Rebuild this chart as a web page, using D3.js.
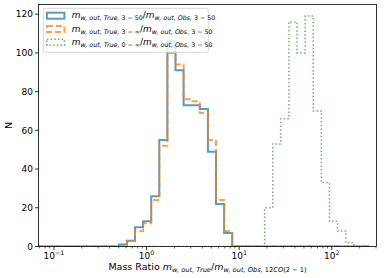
<!DOCTYPE html>
<html>
<head>
<meta charset="utf-8">
<script src="https://cdn.jsdelivr.net/npm/d3@7"></script>
<style>
  body { margin: 0; background: #fff; }
  svg { display: block; font-family: 'DejaVu Sans', sans-serif; }
</style>
</head>
<body>
<div id="chart"></div>
<script>
// log-spaced bins (41 bins between 10^-1.175 and 10^2.4125)
const logLo = -1.175;
const logHi = 2.4125;
const nBins = 41;

// counts per bin
const countsTrue350 = [0,0,0,0,0,0,0,0,0,0, 1,3,10,13,26,55,106,91,73,73, 71,49,22,7,0,0,0,0,0,0, 0,0,0,0,0,0,0,0,0,0, 0];
const countsTrue3Inf = [0,0,0,0,0,0,0,0,0,0, 0,3,8,12,24,52,100,94,76,75, 69,55,24,8,0,0,0,0,0,0, 0,0,0,0,0,0,0,0,0,0, 0];
const countsTrue0Inf = [0,0,0,0,0,0,0,0,0,0, 0,0,0,0,0,0,0,0,0,0, 0,0,0,0,0,0,0,0,20,53, 66,116,100,119,70,33,13,8,2,0, 0];

const yTicks = [0, 20, 40, 60, 80, 100, 120];
const xTickExps = [-1, 0, 1, 2];

const width = 390, height = 278;
const margin = {left: 38.5, right: 13.5, top: 4.5, bottom: 31.5};
const W = width - margin.left - margin.right;
const H = height - margin.top - margin.bottom;

const edges = d3.range(nBins + 1).map(i => Math.pow(10, logLo + (logHi - logLo) * i / nBins));

const x = d3.scaleLog().domain([Math.pow(10, -1.167), Math.pow(10, 2.483)]).range([0, W]);
const y = d3.scaleLinear().domain([0, 125]).range([H, 0]);

const svg = d3.select('#chart').append('svg')
  .attr('width', width)
  .attr('height', height);

svg.append('defs').append('clipPath').attr('id', 'clip')
  .append('rect').attr('width', W).attr('height', H);

const g = svg.append('g').attr('transform', `translate(${margin.left},${margin.top})`);

// mathtext-ish helper: parts = [[text, kind]], kind in r, i, sub, subi, sup
function mathText(sel, px, py, parts, size, anchor) {
  const t = sel.append('text')
    .attr('x', px).attr('y', py)
    .attr('font-size', size)
    .attr('text-anchor', anchor || 'start')
    .attr('fill', '#000');
  let shift = 0;
  parts.forEach(([s, kind]) => {
    const sub = kind.startsWith('sub');
    const sup = kind === 'sup';
    const ital = kind === 'i' || kind === 'subi';
    const target = sub ? size * 0.22 : sup ? -size * 0.42 : 0;
    t.append('tspan')
      .attr('dy', target - shift)
      .attr('font-size', (sub || sup) ? size * 0.7 : size)
      .attr('font-style', ital ? 'italic' : 'normal')
      .text(s);
    shift = target;
  });
  return t;
}

function stepPoints(counts) {
  const pts = [[edges[0], 0]];
  counts.forEach((c, i) => {
    pts.push([edges[i], c]);
    pts.push([edges[i + 1], c]);
  });
  pts.push([edges[counts.length], 0]);
  return pts;
}

const line = d3.line().x(d => x(d[0])).y(d => y(d[1]));

const series = [
  {counts: countsTrue350, color: '#1f77b4', dash: null, lw: 2},
  {counts: countsTrue3Inf, color: '#ff7f0e', dash: '6,3', lw: 2},
  {counts: countsTrue0Inf, color: '#2ca02c', dash: '1.5,2.2', lw: 1.5}
];

const plot = g.append('g').attr('clip-path', 'url(#clip)');
series.forEach(s => {
  plot.append('path')
    .attr('d', line(stepPoints(s.counts)))
    .attr('fill', 'none')
    .attr('stroke', s.color)
    .attr('stroke-opacity', 0.75)
    .attr('stroke-width', s.lw)
    .attr('stroke-dasharray', s.dash)
    .attr('stroke-linejoin', 'miter');
});

// frame
g.append('rect')
  .attr('width', W).attr('height', H)
  .attr('fill', 'none').attr('stroke', '#000').attr('stroke-width', 0.8);

// y axis
yTicks.forEach(v => {
  g.append('line').attr('x1', -3.5).attr('x2', 0).attr('y1', y(v)).attr('y2', y(v))
    .attr('stroke', '#000').attr('stroke-width', 0.8);
  g.append('text').attr('x', -5.5).attr('y', y(v) + 3.3)
    .attr('text-anchor', 'end').attr('font-size', 9).text(v);
});

// x axis: major and minor ticks
const [d0, d1] = x.domain();
for (let e = -2; e <= 3; e++) {
  for (let m = 1; m <= 9; m++) {
    const v = m * Math.pow(10, e);
    if (v < d0 || v > d1) continue;
    const len = m === 1 ? 3.5 : 2;
    g.append('line').attr('x1', x(v)).attr('x2', x(v)).attr('y1', H).attr('y2', H + len)
      .attr('stroke', '#000').attr('stroke-width', m === 1 ? 0.8 : 0.6);
  }
}
xTickExps.forEach(e => {
  mathText(g, x(Math.pow(10, e)), H + 12.3, [['10', 'r'], [e < 0 ? '\u2212' + (-e) : String(e), 'sup']], 9, 'middle');
});

// axis labels
mathText(g, W / 2, H + 23.8, [
  ['Mass Ratio ', 'r'], ['m', 'i'], ['w, out, True', 'subi'], ['/', 'r'], ['m', 'i'],
  ['w, out, Obs, ', 'subi'], ['12', 'sub'], ['CO', 'subi'], ['(2 \u2212 1)', 'sub']
], 9.5, 'middle');

g.append('text')
  .attr('transform', `translate(${-27},${H / 2}) rotate(-90)`)
  .attr('text-anchor', 'middle').attr('font-size', 9.5).text('N');

// legend
const legend = g.append('g').attr('transform', 'translate(4.8,3.8)');
legend.append('rect')
  .attr('width', 165).attr('height', 44).attr('rx', 2)
  .attr('fill', '#fff').attr('fill-opacity', 0.8)
  .attr('stroke', '#ccc').attr('stroke-width', 0.8);

const legendLabels = [
  [['m', 'i'], ['w, out, True, ', 'subi'], ['3 \u2212 50', 'sub'], ['/', 'r'], ['m', 'i'], ['w, out, Obs, ', 'subi'], ['3 \u2212 50', 'sub']],
  [['m', 'i'], ['w, out, True, ', 'subi'], ['3 \u2212 \u221e', 'sub'], ['/', 'r'], ['m', 'i'], ['w, out, Obs, ', 'subi'], ['3 \u2212 50', 'sub']],
  [['m', 'i'], ['w, out, True, ', 'subi'], ['0 \u2212 \u221e', 'sub'], ['/', 'r'], ['m', 'i'], ['w, out, Obs, ', 'subi'], ['3 \u2212 50', 'sub']]
];
series.forEach((s, i) => {
  const cy = 7.4 + i * 13.3;
  legend.append('rect')
    .attr('x', 3.6).attr('y', cy - 3).attr('width', 17.5).attr('height', 6)
    .attr('fill', 'none').attr('stroke', s.color).attr('stroke-opacity', 0.75)
    .attr('stroke-width', s.lw).attr('stroke-dasharray', s.dash);
  mathText(legend, 28.5, cy + 2.6, legendLabels[i], 9, 'start');
});
</script>
</body>
</html>
